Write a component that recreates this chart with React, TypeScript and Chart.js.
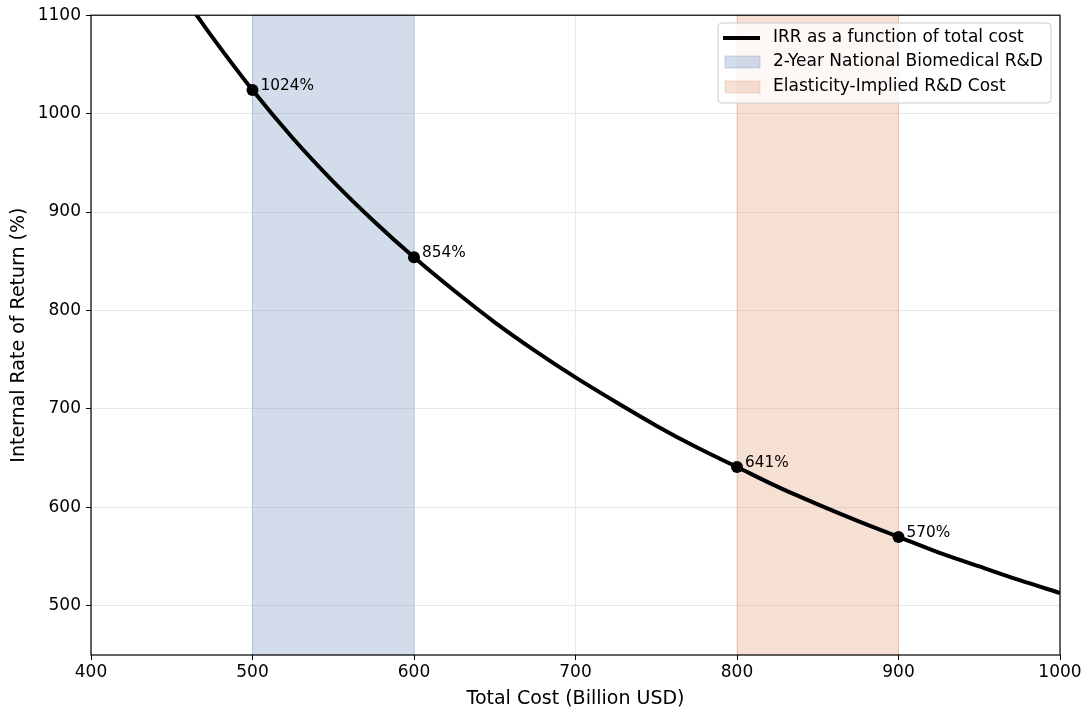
import React, { useEffect, useRef } from "react";
import { Chart, registerables } from "chart.js";

Chart.register(...registerables);

const costs = [465, 475, 500, 525, 550, 575, 600, 625, 650, 675, 700, 725, 750, 775, 800, 825, 850, 875, 900, 925, 950, 975, 1000];
const irrValues = [1101, 1078, 1024, 975, 931, 891, 854, 820, 788, 759, 732, 707, 683, 661, 641, 621, 603, 586, 570, 554, 540, 526, 513];

const markerCosts = [500, 600, 800, 900];
const markerIrr = [1024, 854, 641, 570];
const markerLabels = ["1024%", "854%", "641%", "570%"];

const xTicks = [400, 500, 600, 700, 800, 900, 1000];
const yTicks = [500, 600, 700, 800, 900, 1000, 1100];

const bandBiomed = [500, 600];
const bandElasticity = [800, 900];

const legendLabels = [
  "IRR as a function of total cost",
  "2-Year National Biomedical R&D",
  "Elasticity-Implied R&D Cost",
];

const FONT = "'DejaVu Sans', sans-serif";
const BLUE = "rgba(76,114,176,0.25)";
const ORANGE = "rgba(221,132,82,0.25)";

const bandsPlugin = {
  id: "bands",
  beforeDatasetsDraw(chart: any) {
    const { ctx, chartArea, scales } = chart;
    const x = scales.x;
    const draw = (range: number[], color: string) => {
      const x0 = x.getPixelForValue(range[0]);
      const x1 = x.getPixelForValue(range[1]);
      ctx.save();
      ctx.fillStyle = color;
      ctx.fillRect(x0, chartArea.top, x1 - x0, chartArea.bottom - chartArea.top);
      ctx.strokeStyle = color;
      ctx.lineWidth = 1;
      ctx.strokeRect(x0, chartArea.top, x1 - x0, chartArea.bottom - chartArea.top);
      ctx.restore();
    };
    draw(bandBiomed, BLUE);
    draw(bandElasticity, ORANGE);
  },
};

const overlayPlugin = {
  id: "overlay",
  afterDatasetsDraw(chart: any) {
    const { ctx, chartArea, scales } = chart;
    ctx.save();
    ctx.font = `15.3px ${FONT}`;
    ctx.fillStyle = "#000";
    ctx.textAlign = "left";
    ctx.textBaseline = "middle";
    markerCosts.forEach((c, i) => {
      const px = scales.x.getPixelForValue(c);
      const py = scales.y.getPixelForValue(markerIrr[i]);
      ctx.fillText(markerLabels[i], px + 8, py - 4);
    });
    ctx.strokeStyle = "#000";
    ctx.lineWidth = 1.2;
    ctx.strokeRect(chartArea.left, chartArea.top, chartArea.right - chartArea.left, chartArea.bottom - chartArea.top);
    ctx.restore();
  },
  afterDraw(chart: any) {
    const { ctx } = chart;
    const bx = 718, by = 23, bw = 333, bh = 80, r = 4;
    ctx.save();
    ctx.beginPath();
    ctx.moveTo(bx + r, by);
    ctx.lineTo(bx + bw - r, by);
    ctx.quadraticCurveTo(bx + bw, by, bx + bw, by + r);
    ctx.lineTo(bx + bw, by + bh - r);
    ctx.quadraticCurveTo(bx + bw, by + bh, bx + bw - r, by + bh);
    ctx.lineTo(bx + r, by + bh);
    ctx.quadraticCurveTo(bx, by + bh, bx, by + bh - r);
    ctx.lineTo(bx, by + r);
    ctx.quadraticCurveTo(bx, by, bx + r, by);
    ctx.closePath();
    ctx.fillStyle = "rgba(255,255,255,0.8)";
    ctx.fill();
    ctx.strokeStyle = "#cccccc";
    ctx.lineWidth = 1;
    ctx.stroke();

    const rows = [38, 62, 87];
    ctx.strokeStyle = "#000";
    ctx.lineWidth = 4;
    ctx.beginPath();
    ctx.moveTo(723, rows[0]);
    ctx.lineTo(760, rows[0]);
    ctx.stroke();
    const patch = (y: number, color: string) => {
      ctx.fillStyle = color;
      ctx.fillRect(725, y - 6, 35, 12);
      ctx.strokeStyle = color;
      ctx.lineWidth = 1;
      ctx.strokeRect(725, y - 6, 35, 12);
    };
    patch(rows[1], BLUE);
    patch(rows[2], ORANGE);

    ctx.fillStyle = "#000";
    ctx.font = `17px ${FONT}`;
    ctx.textAlign = "left";
    ctx.textBaseline = "middle";
    legendLabels.forEach((t, i) => ctx.fillText(t, 773, rows[i]));
    ctx.restore();
  },
};

export default function App() {
  const ref = useRef<HTMLCanvasElement | null>(null);
  useEffect(() => {
    if (!ref.current) return;
    const chart = new Chart(ref.current, {
      type: "line",
      data: {
        datasets: [
          {
            label: legendLabels[0],
            data: costs.map((c, i) => ({ x: c, y: irrValues[i] })),
            borderColor: "#000",
            borderWidth: 4,
            pointRadius: 0,
            cubicInterpolationMode: "monotone",
            clip: 0,
            fill: false,
          },
          {
            label: "markers",
            data: markerCosts.map((c, i) => ({ x: c, y: markerIrr[i] })),
            showLine: false,
            pointRadius: 6,
            pointBackgroundColor: "#000",
            pointBorderColor: "#000",
            pointBorderWidth: 0,
          },
        ],
      },
      options: {
        animation: false,
        responsive: true,
        maintainAspectRatio: false,
        layout: { padding: { top: 15, right: 24, left: 0, bottom: 0 } },
        plugins: { legend: { display: false }, tooltip: { enabled: false } },
        events: [],
        scales: {
          x: {
            type: "linear",
            min: 400,
            max: 1000,
            afterBuildTicks: (s: any) => {
              s.ticks = xTicks.map((v) => ({ value: v }));
            },
            afterFit: (s: any) => {
              s.height = 56;
            },
            ticks: {
              font: { family: FONT, size: 17 },
              color: "#000",
              padding: 2,
              maxRotation: 0,
              callback: (v: any) => String(v),
            },
            grid: {
              color: "#e8e8e8",
              lineWidth: 1,
              tickColor: "#000",
              tickLength: 5,
            },
            border: { display: false },
            title: {
              display: true,
              text: "Total Cost (Billion USD)",
              font: { family: FONT, size: 19 },
              color: "#000",
              padding: { top: 0, bottom: 1 },
            },
          },
          y: {
            type: "linear",
            min: 450,
            max: 1100,
            afterBuildTicks: (s: any) => {
              s.ticks = yTicks.map((v) => ({ value: v }));
            },
            afterFit: (s: any) => {
              s.width = 91;
            },
            ticks: {
              font: { family: FONT, size: 17 },
              color: "#000",
              padding: 5,
              callback: (v: any) => String(v),
            },
            grid: {
              color: "#e8e8e8",
              lineWidth: 1,
              tickColor: "#000",
              tickLength: 5,
            },
            border: { display: false },
            title: {
              display: true,
              text: "Internal Rate of Return (%)",
              font: { family: FONT, size: 19 },
              color: "#000",
              padding: { top: 8, bottom: 0 },
            },
          },
        },
      } as any,
      plugins: [bandsPlugin, overlayPlugin],
    });
    return () => chart.destroy();
  }, []);
  return (
    <div style={{ position: "fixed", left: 0, top: 0, width: 1084, height: 711, background: "#fff" }}>
      <canvas ref={ref} />
    </div>
  );
}
